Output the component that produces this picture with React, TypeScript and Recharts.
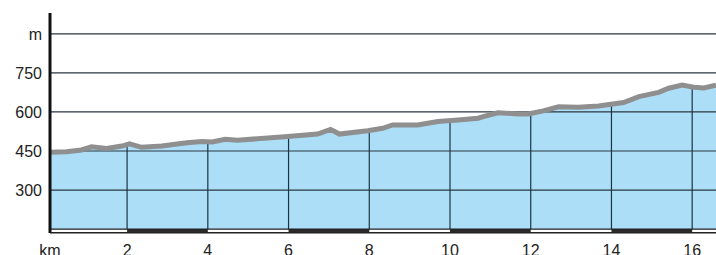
import React from 'react';
import {
  ComposedChart,
  Area,
  Line,
  XAxis,
  YAxis,
  ReferenceLine,
  ReferenceArea,
} from 'recharts';

// profile (km, metres)
const km = [
  0.09, 0.5, 0.87, 1.12, 1.49, 1.87, 2.06, 2.36, 2.86, 3.48, 3.86, 4.11, 4.43, 4.73,
  5.9, 6.72, 7.04, 7.26, 7.96, 8.33, 8.58, 9.2, 9.7, 10.2, 10.7, 10.82, 11.19,
  11.69, 11.94, 12.31, 12.69, 13.18, 13.68, 14.3, 14.68, 15.17, 15.42, 15.75,
  16.04, 16.29, 16.59,
];
const elevation = [
  445, 447, 454, 466, 460, 469, 477, 464, 469, 482, 486, 485, 495, 491,
  505, 515, 533, 515, 528, 537, 550, 550, 563, 569, 576, 582, 597,
  592, 592, 604, 620, 618, 623, 636, 659, 675, 691, 703,
  695, 692, 703,
];

const kmTicks = [0.09, 2, 4, 6, 8, 10, 12, 14, 16];
const mTicks = [300, 450, 600, 750, 900];
const darkSegments = [[2, 4], [6, 8], [10, 12], [14, 16]];

const BASE = 150;
const BOTTOM = 135;

const data = km.map((k, i) => ({ km: k, m: elevation[i] }));

// elevation at a given km, straight between read points
const elevAt = (x: number) => {
  for (let i = 1; i < km.length; i++) {
    if (x <= km[i]) {
      const t = (x - km[i - 1]) / (km[i] - km[i - 1]);
      return elevation[i - 1] + t * (elevation[i] - elevation[i - 1]);
    }
  }
  return elevation[elevation.length - 1];
};

const font = { fontFamily: '"Liberation Sans", Arial, sans-serif', fontSize: 16, fill: '#222' };

export default function App() {
  return (
    <div style={{ position: 'fixed', left: 0, top: 0, background: '#fff' }}>
      <ComposedChart
        width={716}
        height={262}
        data={data}
        margin={{ top: 13, right: 0, bottom: 0, left: 0 }}
      >
        <XAxis
          dataKey="km"
          type="number"
          domain={[0.09, 16.59]}
          ticks={kmTicks}
          tickFormatter={(v) => (v < 1 ? 'km' : String(v))}
          axisLine={false}
          tickLine={false}
          tickSize={6}
          tickMargin={6}
          height={29}
          tick={font}
          interval={0}
        />
        <YAxis
          type="number"
          domain={[BOTTOM, 980]}
          ticks={mTicks}
          tickFormatter={(v) => (v === 900 ? 'm' : String(v))}
          axisLine={{ stroke: '#111', strokeWidth: 3 }}
          tickLine={false}
          width={50}
          tick={font}
          interval={0}
        />
        <Area
          dataKey="m"
          type="linear"
          baseValue={BASE}
          fill="#acdff7"
          fillOpacity={1}
          stroke="none"
          isAnimationActive={false}
        />
        {mTicks.map((v) => (
          <ReferenceLine key={v} y={v} stroke="#2a3640" strokeWidth={1.2} />
        ))}
        {kmTicks.slice(1).map((k) => (
          <ReferenceLine
            key={k}
            segment={[{ x: k, y: BASE }, { x: k, y: elevAt(k) - 4 }]}
            stroke="#1e3442"
            strokeWidth={1.2}
          />
        ))}
        {darkSegments.map(([a, b]) => (
          <ReferenceArea key={a} x1={a} x2={b} y1={BOTTOM} y2={BASE} fill="#2b2b2b" fillOpacity={1} stroke="none" />
        ))}
        <ReferenceLine y={BASE} stroke="#222" strokeWidth={1.2} />
        <ReferenceLine y={BOTTOM + 1} stroke="#222" strokeWidth={1.5} />
        <Line
          dataKey="m"
          type="linear"
          stroke="#8f8f8f"
          strokeWidth={5}
          dot={false}
          isAnimationActive={false}
        />
      </ComposedChart>
    </div>
  );
}
